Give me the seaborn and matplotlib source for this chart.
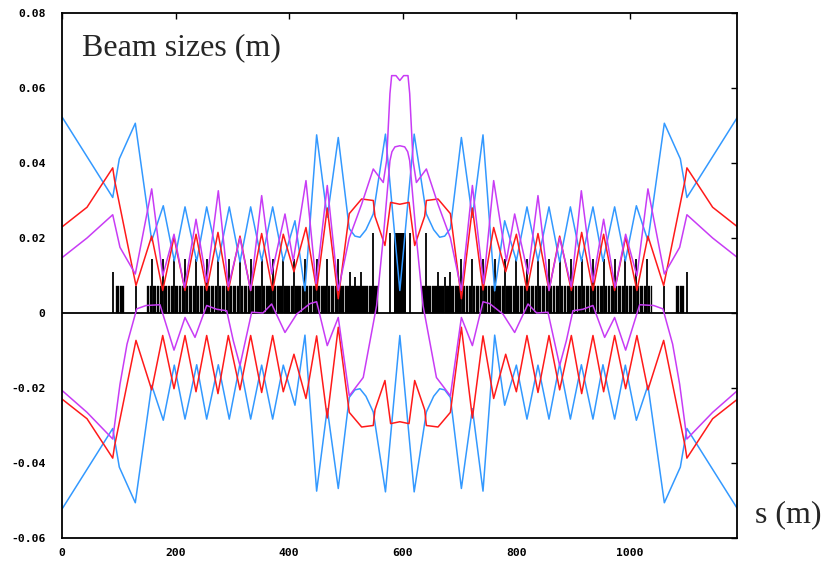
import matplotlib
matplotlib.use('Agg')
import matplotlib.pyplot as plt
import seaborn as sns
import numpy as np

# beam envelopes: s (m) -> size (m)
blue_s = [0, 89.0, 100.6, 128.8, 157.7, 178.1, 197.5, 216.4, 237.0, 254.6,
          275.1, 294.4, 313.3, 332.1, 351.5, 370.9, 389.6, 410.2, 427.8, 448.4,
          467.1, 486.5, 505.9, 515.9, 524.7, 535.3, 548.2, 569.7, 595.0,
          620.3, 641.8, 654.7, 665.3, 674.1, 684.1, 703.5, 722.9, 741.6, 762.2,
          779.8, 800.4, 819.1, 838.5, 857.9, 876.7, 895.6, 915.0, 935.4, 953.0,
          973.6, 992.5, 1011.9, 1032.3, 1061.2, 1089.4, 1101.0, 1190]
blue_v = [0.0522, 0.0308, 0.0411, 0.0506, 0.0193, 0.0286, 0.0139, 0.0283, 0.0138, 0.0283,
          0.0138, 0.0283, 0.0136, 0.0283, 0.0139, 0.0283, 0.0139, 0.0246, 0.0059, 0.0475,
          0.0255, 0.0468, 0.0225, 0.0205, 0.0202, 0.0222, 0.0264, 0.0477, 0.0060,
          0.0477, 0.0264, 0.0222, 0.0202, 0.0205, 0.0225, 0.0468, 0.0255, 0.0475, 0.0059,
          0.0246, 0.0139, 0.0283, 0.0139, 0.0283, 0.0136, 0.0283, 0.0138, 0.0283, 0.0138,
          0.0283, 0.0139, 0.0286, 0.0193, 0.0506, 0.0411, 0.0308, 0.0522]

red_s = [0, 43.7, 89.0, 92.2, 130.0, 157.7, 177.1, 197.0, 216.4, 235.8,
         254.6, 274.5, 292.7, 313.3, 332.1, 351.5, 370.9, 389.6, 408.4, 429.6,
         448.4, 467.1, 486.5, 505.9, 527.7, 548.2, 551.2, 568.8, 578.8, 595.0,
         611.2, 621.2, 638.8, 641.8, 662.3, 684.1, 703.5, 722.9, 741.6, 760.4,
         781.6, 800.4, 819.1, 838.5, 857.9, 876.7, 897.3, 915.5, 935.4, 954.2,
         973.6, 993.0, 1012.9, 1032.3, 1060.0, 1097.8, 1101.0, 1146.3, 1190]
red_v = [0.0230, 0.0282, 0.0387, 0.0355, 0.0073, 0.0205, 0.0060, 0.0202, 0.0060, 0.0210,
         0.0060, 0.0215, 0.0060, 0.0205, 0.0060, 0.0212, 0.0060, 0.0210, 0.0110, 0.0228,
         0.0061, 0.0280, 0.0038, 0.0265, 0.0304, 0.0300, 0.0258, 0.0180, 0.0295, 0.0290,
         0.0295, 0.0180, 0.0258, 0.0300, 0.0304, 0.0265, 0.0038, 0.0280, 0.0061, 0.0228,
         0.0110, 0.0210, 0.0060, 0.0212, 0.0060, 0.0205, 0.0060, 0.0215, 0.0060, 0.0210,
         0.0060, 0.0202, 0.0060, 0.0205, 0.0073, 0.0355, 0.0387, 0.0282, 0.0230]

purple_up_s = [0, 43.7, 89.0, 101.8, 128.8, 157.7, 177.1, 197.0, 215.5, 235.8,
               254.6, 275.1, 292.7, 313.3, 332.1, 351.5, 369.1, 392.6, 407.2, 429.6,
               447.4, 467.1, 486.5, 505.9, 527.7, 548.2, 565.8, 571.7, 577.6, 580.6,
               588.2, 595.0,
               601.8, 609.4, 612.4, 618.3, 624.2, 641.8, 662.3, 684.1, 703.5, 722.9,
               742.6, 760.4, 782.8, 797.4, 820.9, 838.5, 857.9, 876.7, 897.3, 914.9,
               935.4, 954.2, 974.5, 993.0, 1012.9, 1032.3, 1061.2, 1088.2, 1101.0, 1146.3,
               1190]
purple_up_v = [0.0148, 0.0200, 0.0262, 0.0175, 0.0104, 0.0331, 0.0099, 0.0210, 0.0068, 0.0250,
               0.0082, 0.0326, 0.0070, 0.0200, 0.0060, 0.0313, 0.0104, 0.0264, 0.0139, 0.0353,
               0.0078, 0.0340, 0.0060, 0.0200, 0.0290, 0.0384, 0.0348, 0.0406, 0.0585, 0.0633,
               0.0633, 0.0620,
               0.0633, 0.0633, 0.0585, 0.0406, 0.0348, 0.0384, 0.0290, 0.0200, 0.0060, 0.0340,
               0.0078, 0.0353, 0.0139, 0.0264, 0.0104, 0.0313, 0.0060, 0.0200, 0.0070, 0.0326,
               0.0082, 0.0250, 0.0068, 0.0210, 0.0099, 0.0331, 0.0104, 0.0175, 0.0262, 0.0200,
               0.0148]

purple_lo_s = [0, 43.7, 89.0, 101.8, 114.2, 131.3, 147.7, 172.3, 197.0, 216.4,
               234.0, 254.6, 272.2, 289.9, 301.5, 313.3, 333.9, 353.8, 369.1, 392.6,
               413.2, 436.6, 448.4, 467.1, 486.5, 505.9, 530.5, 554.1, 565.8, 577.6,
               581.1, 586.4, 595.0,
               603.6, 608.9, 612.4, 624.2, 635.9, 659.5, 684.1, 703.5, 722.9, 741.6,
               753.4, 776.8, 797.4, 820.9, 836.2, 856.1, 876.7, 888.5, 900.1, 917.8,
               935.4, 956.0, 973.6, 993.0, 1017.7, 1042.3, 1058.7, 1075.8, 1088.2, 1101.0,
               1146.3, 1190]
purple_lo_v = [-0.0207, -0.0265, -0.0336, -0.0190, -0.0083, 0.0011, 0.0020, 0.0022, -0.0099, -0.0012,
               -0.0065, 0.0020, 0.0010, 0.0006, -0.0074, -0.0140, 0.0002, 0.0000, 0.0024, -0.0052,
               -0.0003, 0.0025, 0.0030, -0.0087, -0.0012, -0.0221, -0.0172, 0.0020, 0.0200, 0.0406,
               0.0430, 0.0443, 0.0446,
               0.0443, 0.0430, 0.0406, 0.0200, 0.0020, -0.0172, -0.0221, -0.0012, -0.0087, 0.0030,
               0.0025, -0.0003, -0.0052, 0.0024, 0.0000, 0.0002, -0.0140, -0.0074, 0.0006, 0.0010,
               0.0020, -0.0065, -0.0012, -0.0099, 0.0022, 0.0020, 0.0011, -0.0083, -0.0190, -0.0336,
               -0.0265, -0.0207]

# lattice: dipoles (start, end) at one height, quads as thin spikes
dipole_h = 0.0073
dipoles = [(95.0, 100.5), (102.5, 108.0), (150.0, 153.0), (154.3, 158.0),
           (159.8, 164.5), (166.2, 170.9), (172.6, 177.3), (179.2, 183.9), (185.6, 190.3), (192.0, 196.7),
           (198.6, 203.3), (205.0, 209.7), (211.4, 216.1), (217.4, 222.1), (223.8, 228.5), (230.2, 234.9),
           (236.8, 241.5), (243.2, 247.9), (249.6, 254.3), (255.6, 260.3), (262.0, 266.7), (268.4, 273.1),
           (275.5, 280.2), (281.9, 286.6), (288.3, 293.0), (294.9, 299.6), (301.3, 306.0), (307.7, 312.4),
           (314.3, 319.0), (320.7, 325.4), (327.1, 331.8), (333.1, 337.8), (339.5, 344.2), (345.9, 350.6),
           (352.5, 357.2), (358.9, 363.6), (365.3, 370.0), (371.9, 376.6), (378.3, 383.0), (384.7, 389.4),
           (390.6, 395.3), (397.0, 401.7), (403.4, 408.1), (410.0, 414.7), (416.4, 421.1), (422.8, 427.5),
           (428.8, 433.5), (435.2, 439.9), (441.6, 447.5), (449.4, 454.1), (455.8, 460.5), (462.2, 466.9),
           (468.1, 472.8), (474.5, 479.2), (480.9, 485.6),
           (487.5, 497.3), (498.7, 515.3), (516.7, 538.8), (540.2, 556.0),
           (634.0, 649.8), (651.2, 673.3), (674.7, 691.3), (692.7, 702.5),
           (704.4, 709.1), (710.8, 715.5), (717.2, 721.9), (723.1, 727.8), (729.5, 734.2), (735.9, 740.6),
           (742.5, 748.4), (750.1, 754.8), (756.5, 761.2), (762.5, 767.2), (768.9, 773.6), (775.3, 780.0),
           (781.9, 786.6), (788.3, 793.0), (794.7, 799.4), (800.6, 805.3), (807.0, 811.7), (813.4, 818.1),
           (820.0, 824.7), (826.4, 831.1), (832.8, 837.5), (839.4, 844.1), (845.8, 850.5), (852.2, 856.9),
           (858.2, 862.9), (864.6, 869.3), (871.0, 875.7), (877.6, 882.3), (884.0, 888.7), (890.4, 895.1),
           (897.0, 901.7), (903.4, 908.1), (909.8, 914.5), (916.9, 921.6), (923.3, 928.0), (929.7, 934.4),
           (935.7, 940.4), (942.1, 946.8), (948.5, 953.2), (955.1, 959.8), (961.5, 966.2), (967.9, 972.6),
           (973.9, 978.6), (980.3, 985.0), (986.7, 991.4), (993.3, 998.0), (999.7, 1004.4), (1006.1, 1010.8),
           (1012.7, 1017.4), (1019.1, 1023.8), (1025.5, 1030.2),
           (1032.0, 1035.7), (1037.0, 1040.0), (1082.0, 1087.5), (1089.5, 1095.0)]
quad_s = [89.0, 129.5, 158.8, 178.2, 197.6, 216.4, 235.8, 254.6, 274.5, 293.9,
          313.3, 332.1, 351.5, 370.9, 389.6, 409.0, 427.8, 448.4, 467.1, 486.5,
          507.0, 516.0, 527.0, 548.0, 577.6,
          612.4, 642.0, 663.0, 674.0, 683.0,
          703.5, 722.9, 741.6, 762.2, 781.0, 800.4, 819.1, 838.5, 857.9, 876.7,
          896.1, 915.5, 935.4, 954.2, 973.6, 992.4, 1011.8, 1031.2, 1060.5, 1101.0]
quad_h = [0.0108, 0.0073, 0.0144, 0.0144, 0.0144, 0.0144, 0.0144, 0.0144, 0.0144, 0.0144,
          0.0144, 0.0144, 0.0144, 0.0144, 0.0144, 0.0144, 0.0144, 0.0144, 0.0144, 0.0144,
          0.0108, 0.0095, 0.0108, 0.0213, 0.0213,
          0.0213, 0.0213, 0.0108, 0.0095, 0.0108,
          0.0144, 0.0144, 0.0144, 0.0144, 0.0144, 0.0144, 0.0144, 0.0144, 0.0144, 0.0144,
          0.0144, 0.0144, 0.0144, 0.0144, 0.0144, 0.0144, 0.0144, 0.0144, 0.0073, 0.0108]
center_block = (584.6, 605.4)
center_h = 0.0212

x_ticks = [0, 200, 400, 600, 800, 1000]
x_labels = ['0', '200', '400', '600', '800', '1000']
y_ticks = [0.08, 0.06, 0.04, 0.02, 0.0, -0.02, -0.04, -0.06]
y_labels = ['0.08', '0.06', '0.04', '0.02', '0', '-0.02', '-0.04', '-0.06']

BLUE = '#3399ff'
RED = '#ff1a1a'
PURPLE = '#c83cf5'

sns.set_style('white')
plt.rcParams['font.family'] = ['DejaVu Sans Mono', 'DejaVu Sans']

fig = plt.figure(figsize=(8.22, 5.65), dpi=100)
ax = fig.add_axes([0.0757, 0.0478, 0.8214, 0.9292])

# lattice
d = np.array(dipoles)
ax.bar(d[:, 0], dipole_h, width=d[:, 1] - d[:, 0], align='edge', color='black',
       edgecolor='black', linewidth=0.25)
ax.bar(center_block[0], center_h, width=center_block[1] - center_block[0], align='edge',
       color='black', linewidth=0)
ax.vlines(quad_s, 0, quad_h, color='black', linewidth=1.3)
ax.axhline(0, color='black', linewidth=1.3)

lw = 1.1
sns.lineplot(x=blue_s, y=blue_v, color=BLUE, linewidth=lw, ax=ax)
sns.lineplot(x=blue_s, y=-np.array(blue_v), color=BLUE, linewidth=lw, ax=ax)
sns.lineplot(x=red_s, y=red_v, color=RED, linewidth=lw, ax=ax)
sns.lineplot(x=red_s, y=-np.array(red_v), color=RED, linewidth=lw, ax=ax)
sns.lineplot(x=purple_up_s, y=purple_up_v, color=PURPLE, linewidth=lw, ax=ax)
sns.lineplot(x=purple_lo_s, y=purple_lo_v, color=PURPLE, linewidth=lw, ax=ax)

ax.set_xlim(0, 1190)
ax.set_ylim(-0.06, 0.08)
ax.set_xticks(x_ticks)
ax.set_xticklabels(x_labels)
ax.set_yticks(y_ticks)
ax.set_yticklabels(y_labels)
ax.set_xlabel('')
ax.set_ylabel('')
ax.tick_params(direction='in', length=4.5, width=1, top=True, right=True,
               labelsize=8.2, colors='black')
ax.tick_params(axis='y', pad=12)
ax.tick_params(axis='x', pad=7)
for lab in ax.get_xticklabels() + ax.get_yticklabels():
    lab.set_fontweight('bold')
for sp in ax.spines.values():
    sp.set_color('black')
    sp.set_linewidth(1.3)

ax.text(0.029, 0.92, 'Beam sizes (m)', transform=ax.transAxes, fontsize=23,
        family='Liberation Serif', va='baseline', ha='left')
fig.text(0.918, 0.075, 's (m)', fontsize=23, family='Liberation Serif',
         va='baseline', ha='left')

fig.savefig('out.png', dpi=100)
